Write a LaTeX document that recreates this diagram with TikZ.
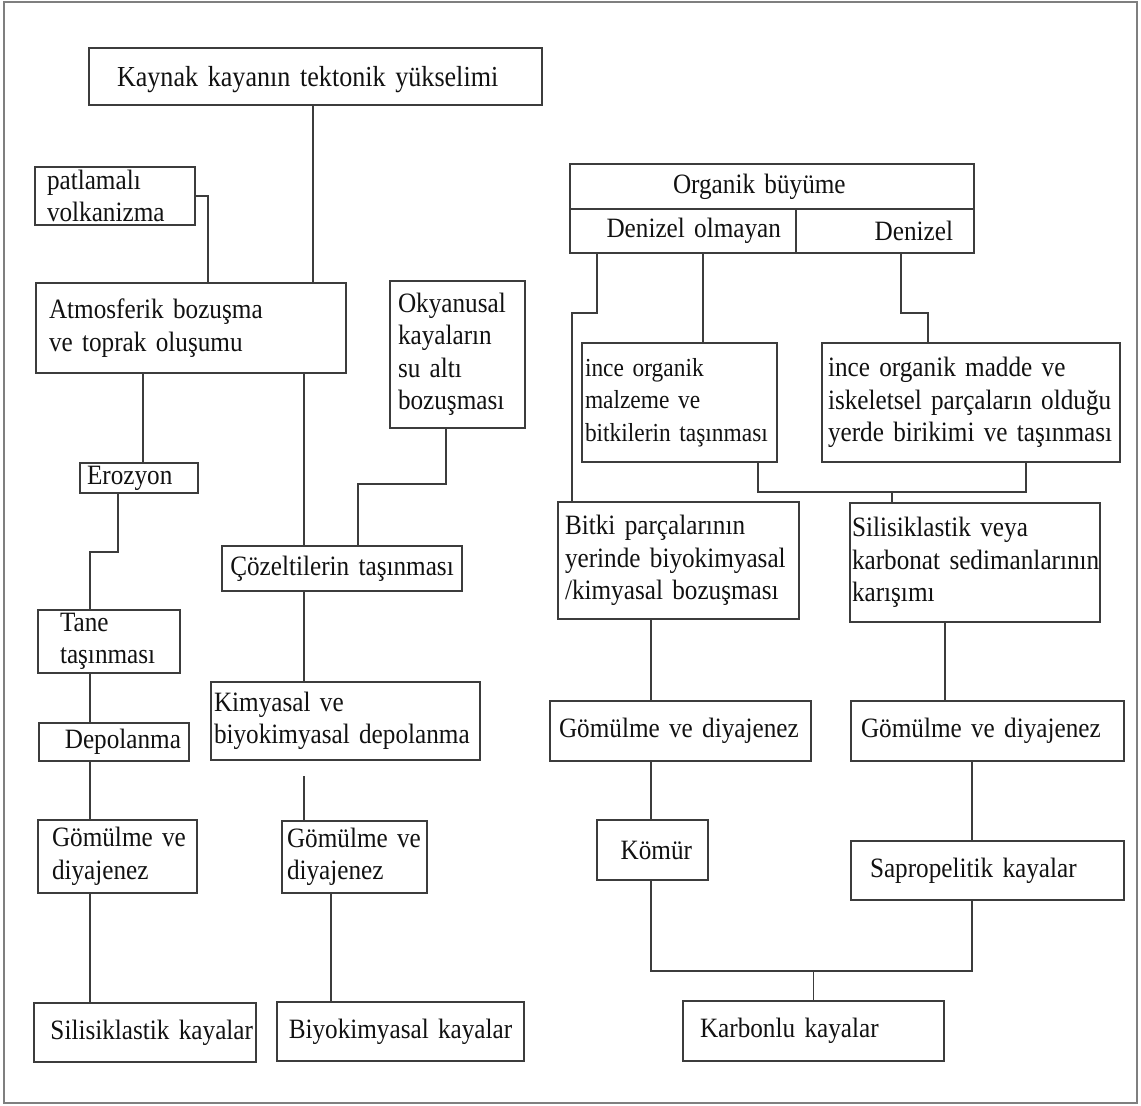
\documentclass[tikz,border=0pt]{standalone}
\usepackage{fontspec}
\setmainfont{Liberation Serif}[FakeStretch=0.9]
\hyphenpenalty=10000
\definecolor{cizgi}{HTML}{3C3C3C}
\definecolor{cerceve}{HTML}{7F7F7F}
\definecolor{yazi}{HTML}{111111}
\begin{document}
\begin{tikzpicture}[x=1pt,y=-1pt,
    kutu/.style={draw=cizgi, line width=1.3pt, anchor=north west, outer sep=0pt,
      inner ysep=0pt, align=left, text=yazi, font=\fontsize{28}{32.5}\selectfont},
    bag/.style={draw=cizgi, line width=1.2pt}]
    \useasboundingbox (0,0) rectangle (1141,1106);
    \draw[cerceve, line width=2pt] (4,1.5) rectangle (1137,1103);

    % sol taraf
    \node[kutu, text width=397pt, inner xsep=28pt, minimum height=57pt, text depth=0pt, font=\fontsize{29}{32.5}\selectfont] (kaynak) at (89,48) {Kaynak kayanın tektonik yükselimi};
    \node[kutu, text width=136pt, inner xsep=12pt, minimum height=58pt] (patlama) at (35,167) {patlamalı\\volkanizma};
    \node[kutu, text width=284pt, inner xsep=13pt, minimum height=90pt] (atmos) at (36,283) {Atmosferik bozuşma\\ve toprak oluşumu};
    \node[kutu, text width=119pt, inner xsep=8pt, minimum height=147pt] (okyan) at (390,281) {Okyanusal\\kayaların\\su altı\\bozuşması};
    \node[kutu, text width=104pt, inner xsep=7pt, minimum height=30pt] (erozyon) at (80,463) {Erozyon};
    \node[kutu, text width=98pt, inner xsep=22pt, minimum height=63pt] (tane) at (38,610) {Tane\\taşınması};
    \node[kutu, text width=134pt, inner xsep=8pt, minimum height=38pt, align=right] (depol) at (39,723) {Depolanma};
    \node[kutu, text width=131pt, inner xsep=14pt, minimum height=73pt] (gom1) at (38,820) {Gömülme~ve\\diyajenez};
    \node[kutu, text width=216pt, inner xsep=3pt, minimum height=59pt, align=right] (silis) at (34,1003) {Silisiklastik kayalar};
    \node[kutu, text width=236pt, inner xsep=2pt, minimum height=45pt, align=center] (cozel) at (222,546) {Çözeltilerin~taşınması};
    \node[kutu, text width=263pt, inner xsep=3pt, minimum height=78pt] (kimy) at (211,682) {Kimyasal ve\\biyokimyasal~depolanma};
    \node[kutu, text width=135pt, inner xsep=5pt, minimum height=72pt] (gom2) at (282,821) {Gömülme~ve\\diyajenez};
    \node[kutu, text width=237pt, inner xsep=5pt, minimum height=59pt, align=center] (biyo) at (277,1002) {Biyokimyasal kayalar};

    % sag taraf
    \node[kutu, text width=198pt, inner xsep=103pt, minimum height=45pt] (org) at (570,164) {Organik büyüme};
    \node[kutu, text width=196pt, inner xsep=15pt, minimum height=44pt, align=right] (den1) at (570,209) {Denizel~olmayan};
    \node[kutu, text width=136pt, inner xsep=21pt, minimum height=44pt, align=right] (den2) at (796,209) {Denizel};
    \node[kutu, text width=189pt, inner xsep=3pt, minimum height=119pt, font=\fontsize{26}{32.5}\selectfont] (incem) at (582,343) {ince organik\\malzeme ve\\bitkilerin~taşınması};
    \node[kutu, text width=286pt, inner xsep=6pt, minimum height=119pt] (incer) at (822,343) {ince organik madde ve\\iskeletsel parçaların~olduğu\\yerde birikimi ve taşınması};
    \node[kutu, text width=227pt, inner xsep=7pt, minimum height=117pt] (bitki) at (558,502) {Bitki parçalarının\\yerinde~biyokimyasal\\/kimyasal bozuşması};
    \node[kutu, text width=246pt, inner xsep=2pt, minimum height=119pt] (silv) at (850,503) {Silisiklastik veya\\karbonat~sedimanlarının\\karışımı};
    \node[kutu, text width=243pt, inner xsep=9pt, minimum height=60pt] (gom3) at (550,701) {Gömülme ve diyajenez};
    \node[kutu, text width=253pt, inner xsep=10pt, minimum height=60pt] (gom4) at (851,701) {Gömülme ve diyajenez};
    \node[kutu, text width=79pt, inner xsep=16pt, minimum height=60pt, align=right] (komur) at (597,820) {Kömür};
    \node[kutu, text width=235pt, inner xsep=19pt, minimum height=59pt] (sapro) at (851,841) {Sapropelitik kayalar};
    \node[kutu, text width=227pt, inner xsep=17pt, minimum height=60pt] (karb) at (683,1001) {Karbonlu kayalar};

    % baglanti sutunlari
    \coordinate (c1) at (313,0);
    \coordinate (c2) at (208,0);
    \coordinate (c3) at (143,0);
    \coordinate (c4) at (118,0);
    \coordinate (c5) at (90,0);
    \coordinate (c6) at (304,0);
    \coordinate (c7) at (446,0);
    \coordinate (c8) at (358,0);
    \coordinate (c9) at (331,0);
    \coordinate (c10) at (597,0);
    \coordinate (c11) at (572,0);
    \coordinate (c12) at (703,0);
    \coordinate (c13) at (901,0);
    \coordinate (c14) at (928,0);
    \coordinate (c15) at (758,0);
    \coordinate (c16) at (1026,0);
    \coordinate (c17) at (892,0);
    \coordinate (c18) at (651,0);
    \coordinate (c19) at (945,0);
    \coordinate (c20) at (972,0);

    \draw[bag] (kaynak.south -| c1) -- (atmos.north -| c1);
    \draw[bag] (patlama.east) -| (atmos.north -| c2);
    \draw[bag] (atmos.south -| c3) -- (erozyon.north -| c3);
    \draw[bag] (erozyon.south -| c4) -- ++(0,59) -| (tane.north -| c5);
    \draw[bag] (tane.south -| c5) -- (depol.north -| c5);
    \draw[bag] (depol.south -| c5) -- (gom1.north -| c5);
    \draw[bag] (gom1.south -| c5) -- (silis.north -| c5);
    \draw[bag] (atmos.south -| c6) -- (cozel.north -| c6);
    \draw[bag] (okyan.south -| c7) -- ++(0,56) -| (cozel.north -| c8);
    \draw[bag] (cozel.south -| c6) -- (kimy.north -| c6);
    \draw[bag] (gom2.north -| c6) -- ++(0,-45);
    \draw[bag] (gom2.south -| c9) -- (biyo.north -| c9);

    \draw[bag] (den1.south -| c10) -- ++(0,60) -| (bitki.north -| c11);
    \draw[bag] (den1.south -| c12) -- (incem.north -| c12);
    \draw[bag] (den2.south -| c13) -- ++(0,60) -| (incer.north -| c14);
    \draw[bag] (incem.south -| c15) -- ++(0,30) -| (incer.south -| c16);
    \draw[bag] (silv.north -| c17) -- ++(0,-11);
    \draw[bag] (bitki.south -| c18) -- (gom3.north -| c18);
    \draw[bag] (silv.south -| c19) -- (gom4.north -| c19);
    \draw[bag] (gom3.south -| c18) -- (komur.north -| c18);
    \draw[bag] (gom4.south -| c20) -- (sapro.north -| c20);
    \draw[bag] (komur.south -| c18) -- ++(0,91) -| (sapro.south -| c20);
    \draw[bag] (karb.north) -- ++(0,-30);
\end{tikzpicture}
\end{document}
